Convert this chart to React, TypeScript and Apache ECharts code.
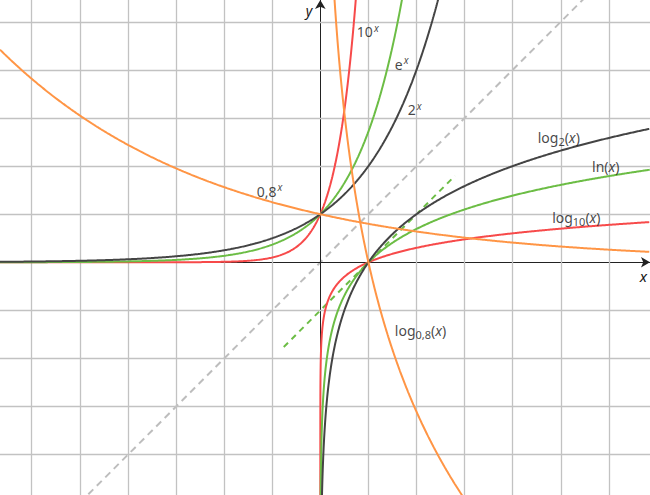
import { useEffect, useRef } from "react";
import * as echarts from "echarts";

// Visible window of the coordinate plane
const X_MIN = -6.66;
const X_MAX = 6.855;
const Y_MIN = -4.838;
const Y_MAX = 5.453;

// Grid line positions (unit squares)
const gridXTicks = [-6, -5, -4, -3, -2, -1, 1, 2, 3, 4, 5, 6];
const gridYTicks = [-4, -3, -2, -1, 1, 2, 3, 4, 5];

// Function families: bases of a^x and log_a(x)
const bases = [10, Math.E, 2, 0.8];
const baseNames = ["10", "e", "2", "0,8"];
const baseColors = ["#f74a4a", "#6cbd45", "#444444", "#ff9545"];

// Tangent to ln(x) at x = 1: y = x - 1 (dashed green), x range
const tangentRange = [-0.76, 2.8];
// Identity y = x (dashed grey), x range
const identityRange = [-5, 5.6];

// Curve labels: [data x, data y] anchor (left/middle of label)
const labelTexts = [
  "{m|10}{sup|x}",
  "{m|e}{sup|x}",
  "{m|2}{sup|x}",
  "{m|0,8}{sup|x}",
  "{m|log}{sub|2}{m|(}{i|x}{m|)}",
  "{m|ln(}{i|x}{m|)}",
  "{m|log}{sub|10}{m|(}{i|x}{m|)}",
  "{m|log}{sub|0,8}{m|(}{i|x}{m|)}",
];
const labelAnchors: [number, number][] = [
  [0.76, 4.79],
  [1.55, 4.12],
  [1.82, 3.17],
  [-1.32, 1.48],
  [4.52, 2.6],
  [5.65, 2.0],
  [4.82, 0.94],
  [1.55, -1.41],
];

function sampleExp(a: number): [number, number][] {
  const pts: [number, number][] = [];
  for (let x = X_MIN; x <= X_MAX + 1e-9; x += 0.01) {
    const y = Math.pow(a, x);
    pts.push([x, y]);
    if (y > Y_MAX * 2) break;
  }
  return pts;
}

function sampleLog(a: number): [number, number][] {
  const xs: number[] = [];
  for (let k = -9; k < -1.3; k += 0.02) xs.push(Math.pow(10, k));
  for (let x = 0.05; x <= X_MAX + 1e-9; x += 0.01) xs.push(x);
  const la = Math.log(a);
  return xs.map((x) => [x, Math.log(x) / la] as [number, number]);
}

const FONT = "'Noto Sans', sans-serif";
const TEXT = "#151515";

export default function App() {
  const ref = useRef<HTMLDivElement>(null);
  useEffect(() => {
    if (!ref.current) return;
    const chart = echarts.init(ref.current, undefined, { renderer: "svg" });

    const curveSeries: any[] = [];
    bases.forEach((a, i) => {
      curveSeries.push({
        name: baseNames[i] + "^x",
        type: "line",
        data: sampleExp(a),
        showSymbol: false,
        clip: true,
        z: 5,
        lineStyle: { color: baseColors[i], width: 2 },
      });
      curveSeries.push({
        name: "log_" + baseNames[i],
        type: "line",
        data: sampleLog(a),
        showSymbol: false,
        clip: true,
        z: 5,
        lineStyle: { color: baseColors[i], width: 2 },
      });
    });

    const rich = {
      m: { fontSize: 14, fontFamily: FONT, color: TEXT },
      i: { fontSize: 14, fontFamily: FONT, color: TEXT, fontStyle: "italic" },
      sup: { fontSize: 10, fontFamily: FONT, color: TEXT, fontStyle: "italic", verticalAlign: "top", padding: [0, 0, 8, 1] },
      sub: { fontSize: 11, fontFamily: FONT, color: TEXT, verticalAlign: "bottom", padding: [8, 0, 0, 0] },
    };

    chart.setOption({
      animation: false,
      grid: { left: 0, right: 0, top: 0, bottom: 0 },
      xAxis: {
        type: "value",
        min: X_MIN,
        max: X_MAX,
        z: 3,
        splitLine: { show: false },
        axisTick: { show: false },
        axisLabel: { show: false },
        axisLine: {
          onZero: true,
          symbol: ["none", "arrow"],
          symbolSize: [8, 9],
          lineStyle: { color: "#222", width: 1 },
        },
        name: "x",
        nameLocation: "end",
        nameGap: -3,
        nameTextStyle: {
          fontFamily: FONT,
          fontSize: 15,
          fontStyle: "italic",
          color: TEXT,
          align: "right",
          verticalAlign: "top",
          padding: [6, 0, 0, 0],
        },
      },
      yAxis: {
        type: "value",
        min: Y_MIN,
        max: Y_MAX,
        z: 3,
        splitLine: { show: false },
        axisTick: { show: false },
        axisLabel: { show: false },
        axisLine: {
          onZero: true,
          symbol: ["none", "arrow"],
          symbolSize: [8, 9],
          lineStyle: { color: "#222", width: 1 },
        },
        name: "y",
        nameLocation: "end",
        nameGap: -3,
        nameTextStyle: {
          fontFamily: FONT,
          fontSize: 14,
          lineHeight: 14,
          fontStyle: "italic",
          color: TEXT,
          align: "right",
          verticalAlign: "top",
          padding: [0, 8, 0, 0],
        },
      },
      series: [
        {
          name: "grid",
          type: "line",
          data: [],
          z: 1,
          silent: true,
          markLine: {
            silent: true,
            symbol: ["none", "none"],
            label: { show: false },
            lineStyle: { color: "#c2c2c2", width: 1.3, type: "solid" },
            data: [
              ...gridXTicks.map((v) => ({ xAxis: v })),
              ...gridYTicks.map((v) => ({ yAxis: v })),
            ],
          },
        },
        {
          name: "y = x",
          type: "line",
          data: identityRange.map((x) => [x, x]),
          showSymbol: false,
          clip: true,
          z: 2,
          lineStyle: { color: "#bdbdbd", width: 2, type: [7, 5] },
        },
        {
          name: "tangent",
          type: "line",
          data: tangentRange.map((x) => [x, x - 1]),
          showSymbol: false,
          clip: true,
          z: 2,
          lineStyle: { color: "#6cbd45", width: 2, type: [6, 5] },
        },
        ...curveSeries,
        {
          name: "labels",
          type: "scatter",
          symbolSize: 0,
          z: 6,
          silent: true,
          data: labelAnchors.map((p, i) => ({
            value: p,
            label: {
              show: true,
              position: "inside",
              align: "left",
              verticalAlign: "middle",
              formatter: labelTexts[i],
              rich,
            },
          })),
        },
      ],
    });
    return () => chart.dispose();
  }, []);
  return (
    <div
      ref={ref}
      style={{ position: "absolute", left: 0, top: 0, width: 650, height: 495, background: "#fff" }}
    />
  );
}
